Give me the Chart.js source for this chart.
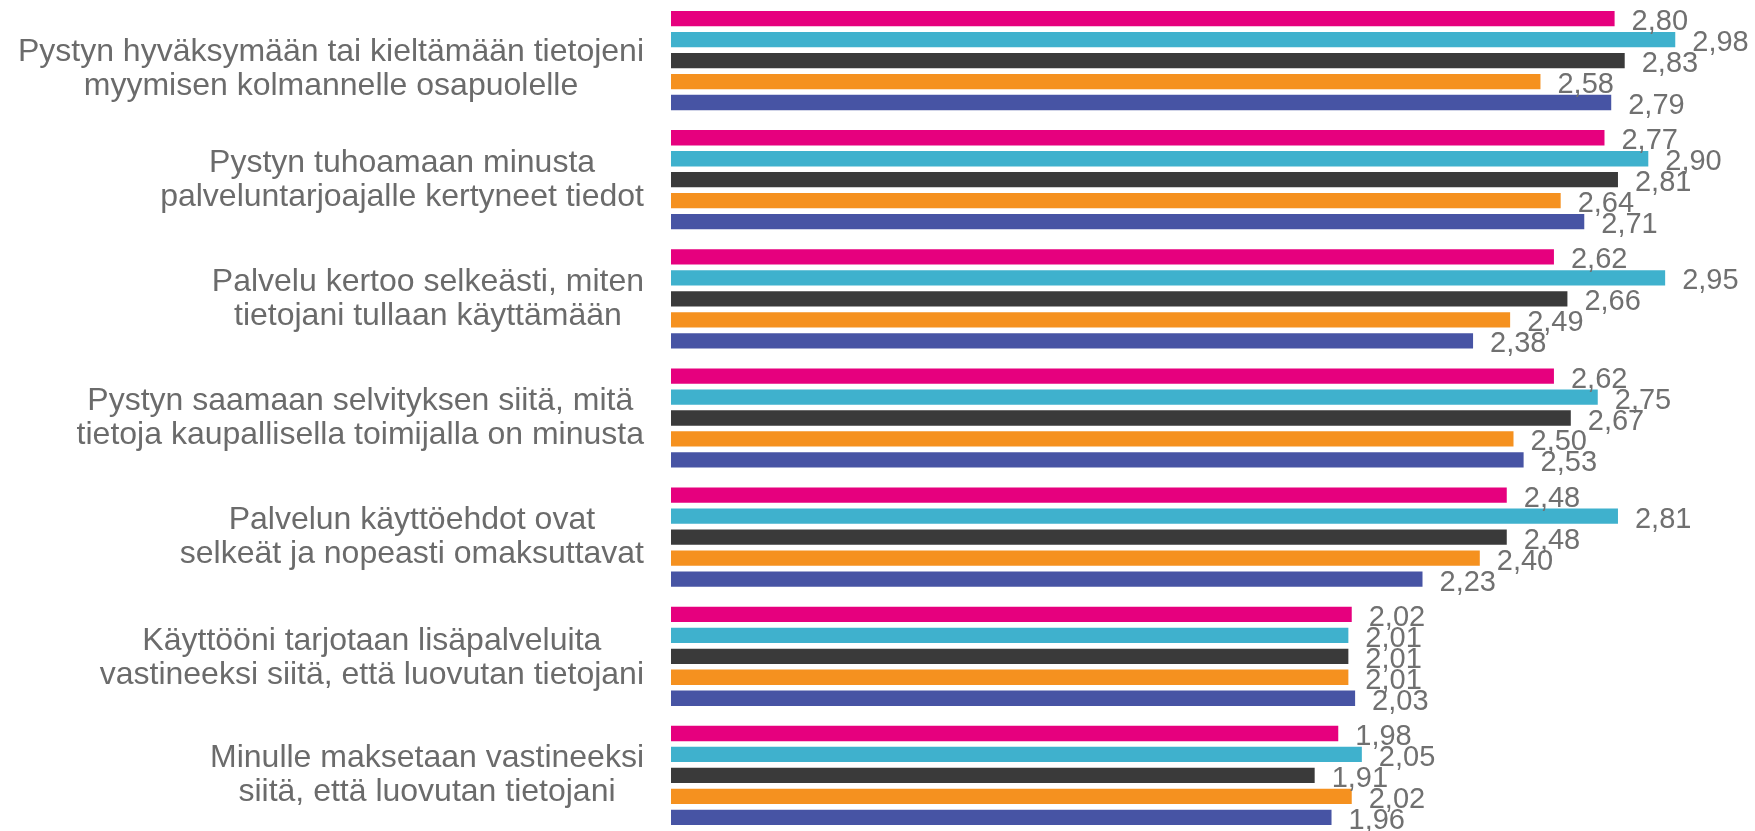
<!DOCTYPE html>
<html>
<head>
<meta charset="utf-8">
<script src="https://cdn.jsdelivr.net/npm/chart.js@4/dist/chart.umd.min.js"></script>
<style>
  html, body { margin: 0; padding: 0; background: #ffffff; overflow: hidden; }
  #wrap { position: relative; width: 1755px; height: 835px; }
</style>
</head>
<body>
<div id="wrap"><canvas id="c"></canvas></div>
<script>
// ---- Data ----
const categories = [
  ["Pystyn hyväksymään tai kieltämään tietojeni", "myymisen kolmannelle osapuolelle"],
  ["Pystyn tuhoamaan minusta", "palveluntarjoajalle kertyneet tiedot"],
  ["Palvelu kertoo selkeästi, miten", "tietojani tullaan käyttämään"],
  ["Pystyn saamaan selvityksen siitä, mitä", "tietoja kaupallisella toimijalla on minusta"],
  ["Palvelun käyttöehdot ovat", "selkeät ja nopeasti omaksuttavat"],
  ["Käyttööni tarjotaan lisäpalveluita", "vastineeksi siitä, että luovutan tietojani"],
  ["Minulle maksetaan vastineeksi", "siitä, että luovutan tietojani"]
];
const seriesNames = ["Sarja 1", "Sarja 2", "Sarja 3", "Sarja 4", "Sarja 5"];
const series1 = [2.80, 2.77, 2.62, 2.62, 2.48, 2.02, 1.98];
const series2 = [2.98, 2.90, 2.95, 2.75, 2.81, 2.01, 2.05];
const series3 = [2.83, 2.81, 2.66, 2.67, 2.48, 2.01, 1.91];
const series4 = [2.58, 2.64, 2.49, 2.50, 2.40, 2.01, 2.02];
const series5 = [2.79, 2.71, 2.38, 2.53, 2.23, 2.03, 1.96];

// ---- Styles ----
const colors = ["#E6007E", "#3FB1CD", "#3A3A3A", "#F5911F", "#4754A4"];
const allSeries = [series1, series2, series3, series4, series5];
const labelShift = [8, 0, 0, 0, 0, 2, 0];   // small vertical nudges of category labels (px)

const fmt = v => v.toFixed(2).replace('.', ',');

const labelPlugin = {
  id: 'customLabels',
  afterDatasetsDraw(chart) {
    const ctx = chart.ctx;
    ctx.save();
    // value labels
    ctx.font = '29px "Liberation Sans", Arial, sans-serif';
    ctx.fillStyle = '#707070';
    ctx.textAlign = 'left';
    ctx.textBaseline = 'alphabetic';
    chart.data.datasets.forEach((ds, di) => {
      const meta = chart.getDatasetMeta(di);
      meta.data.forEach((bar, i) => {
        ctx.fillText(fmt(ds.data[i]), bar.x + 17, bar.y + 11.5);
      });
    });
    // category labels (block right-aligned, lines centered)
    const yScale = chart.scales.y;
    ctx.font = '32px "Liberation Sans", Arial, sans-serif';
    ctx.fillStyle = '#6B6B6B';
    ctx.textAlign = 'center';
    const blockRight = 644;
    const lineH = 34;
    categories.forEach((lines, i) => {
      const cy = yScale.getPixelForValue(i) + labelShift[i];
      const w = Math.max(...lines.map(l => ctx.measureText(l).width));
      const cx = blockRight - w / 2;
      lines.forEach((l, li) => {
        const by = cy + (li - (lines.length - 1) / 2) * lineH + 9;
        ctx.fillText(l, cx, by);
      });
    });
    ctx.restore();
  }
};

new Chart(document.getElementById('c'), {
  type: 'bar',
  data: {
    labels: categories,
    datasets: allSeries.map((d, i) => ({
      label: seriesNames[i],
      data: d,
      backgroundColor: colors[i],
      borderWidth: 0,
      categoryPercentage: 0.88,
      barPercentage: 0.73
    }))
  },
  options: {
    indexAxis: 'y',
    responsive: true,
    maintainAspectRatio: false,
    animation: false,
    layout: { padding: { left: 671, right: 73, top: 1, bottom: 0 } },
    plugins: { legend: { display: false }, tooltip: { enabled: false } },
    scales: {
      x: { min: 0, max: 3, display: false },
      y: { display: false }
    }
  },
  plugins: [labelPlugin]
});
</script>
</body>
</html>
